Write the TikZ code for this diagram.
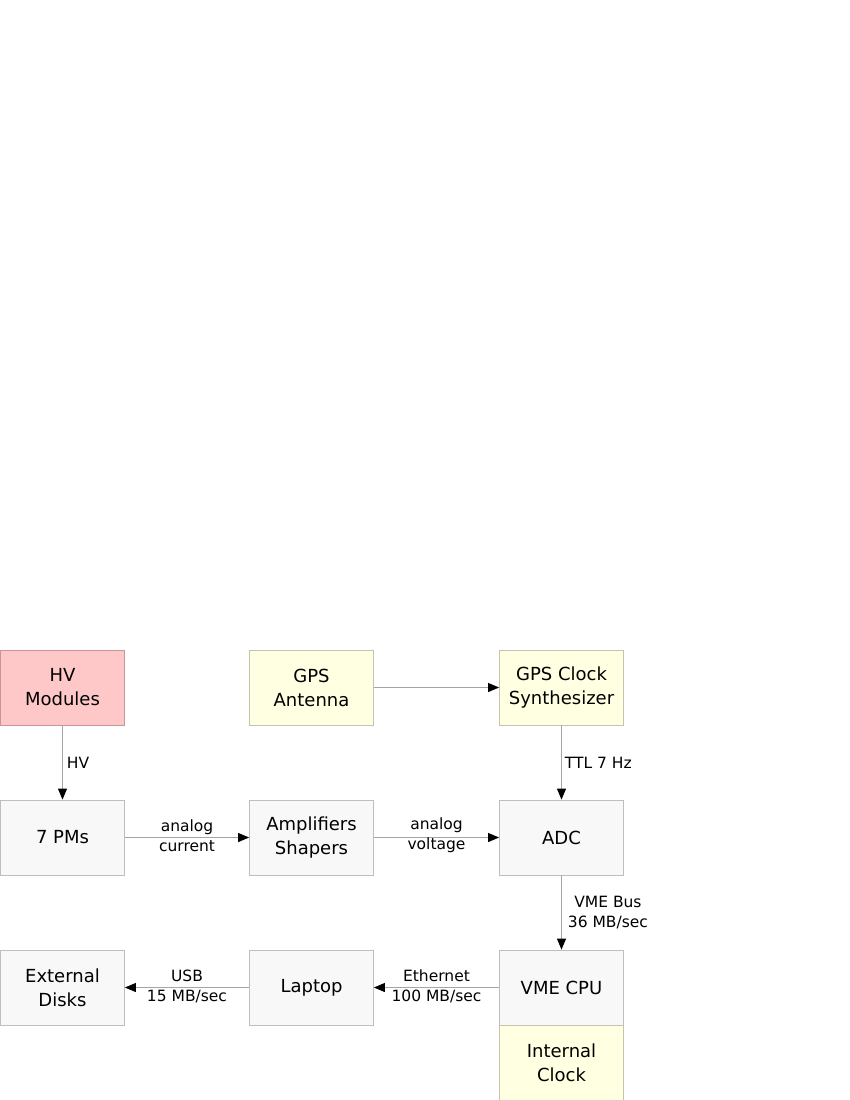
\documentclass[tikz,border=0pt]{standalone}
\usepackage{fontspec}
\setmainfont{DejaVu Sans}
\usetikzlibrary{arrows.meta}
\definecolor{pinkfill}{RGB}{255,200,200}
\definecolor{pinkdraw}{RGB}{200,150,150}
\definecolor{yelfill}{RGB}{255,255,225}
\definecolor{yeldraw}{RGB}{195,195,175}
\definecolor{grayfill}{RGB}{248,248,248}
\definecolor{graydraw}{RGB}{190,190,190}
\definecolor{linecol}{RGB}{165,165,165}
\tikzset{
  box/.style={rectangle, minimum width=124pt, minimum height=75pt, inner sep=0pt, align=center, font=\fontsize{18}{24}\selectfont, line width=0.8pt},
  graybox/.style={box, fill=grayfill, draw=graydraw},
  yelbox/.style={box, fill=yelfill, draw=yeldraw},
  pinkbox/.style={box, fill=pinkfill, draw=pinkdraw},
  conn/.style={draw=linecol, line width=0.9pt, -{Triangle[length=11pt,width=9pt,fill=black,color=black]}},
  lbl/.style={font=\fontsize{15.5}{20}\selectfont, align=center, inner sep=0pt}
}
\begin{document}
\begin{tikzpicture}[x=1pt,y=-1pt]
\useasboundingbox (0,0) rectangle (850,1100);
\node[pinkbox] (hv) at (62.5,687.5) {HV\\Modules};
\node[yelbox] (ant) at (311.5,687.5) {GPS\\Antenna};
\node[yelbox] (gps) at (561.5,687.5) {GPS Clock\\Synthesizer};
\node[graybox] (pm) at (62.5,837.5) {7 PMs};
\node[graybox] (amp) at (311.5,837.5) {Amplifiers\\Shapers};
\node[graybox] (adc) at (561.5,837.5) {ADC};
\node[graybox] (ext) at (62.5,987.5) {External\\Disks};
\node[graybox] (lap) at (311.5,987.5) {Laptop};
\node[graybox] (cpu) at (561.5,987.5) {VME CPU};
\node[yelbox] (clk) at (561.5,1062.5) {Internal\\Clock};
\draw[conn] (ant) -- (gps);
\draw[conn] (hv) -- node[lbl, anchor=west, xshift=4pt] (lhv) {HV} (pm);
\draw[conn] (gps) -- node[lbl, anchor=west, xshift=3pt] (lttl) {TTL 7 Hz} (adc);
\draw[conn] (pm) -- node[lbl, yshift=2pt] (lcur) {analog\\current} (amp);
\draw[conn] (amp) -- node[lbl, yshift=2pt] (lvol) {analog\\voltage} (adc);
\draw[conn] (adc) -- node[lbl, anchor=west, xshift=6pt] (lvme) {VME Bus\\36 MB/sec} (cpu);
\draw[conn] (cpu) -- node[lbl, yshift=1pt] (leth) {Ethernet\\100 MB/sec} (lap);
\draw[conn] (lap) -- node[lbl, yshift=1pt] (lusb) {USB\\15 MB/sec} (ext);
\end{tikzpicture}
\end{document}
